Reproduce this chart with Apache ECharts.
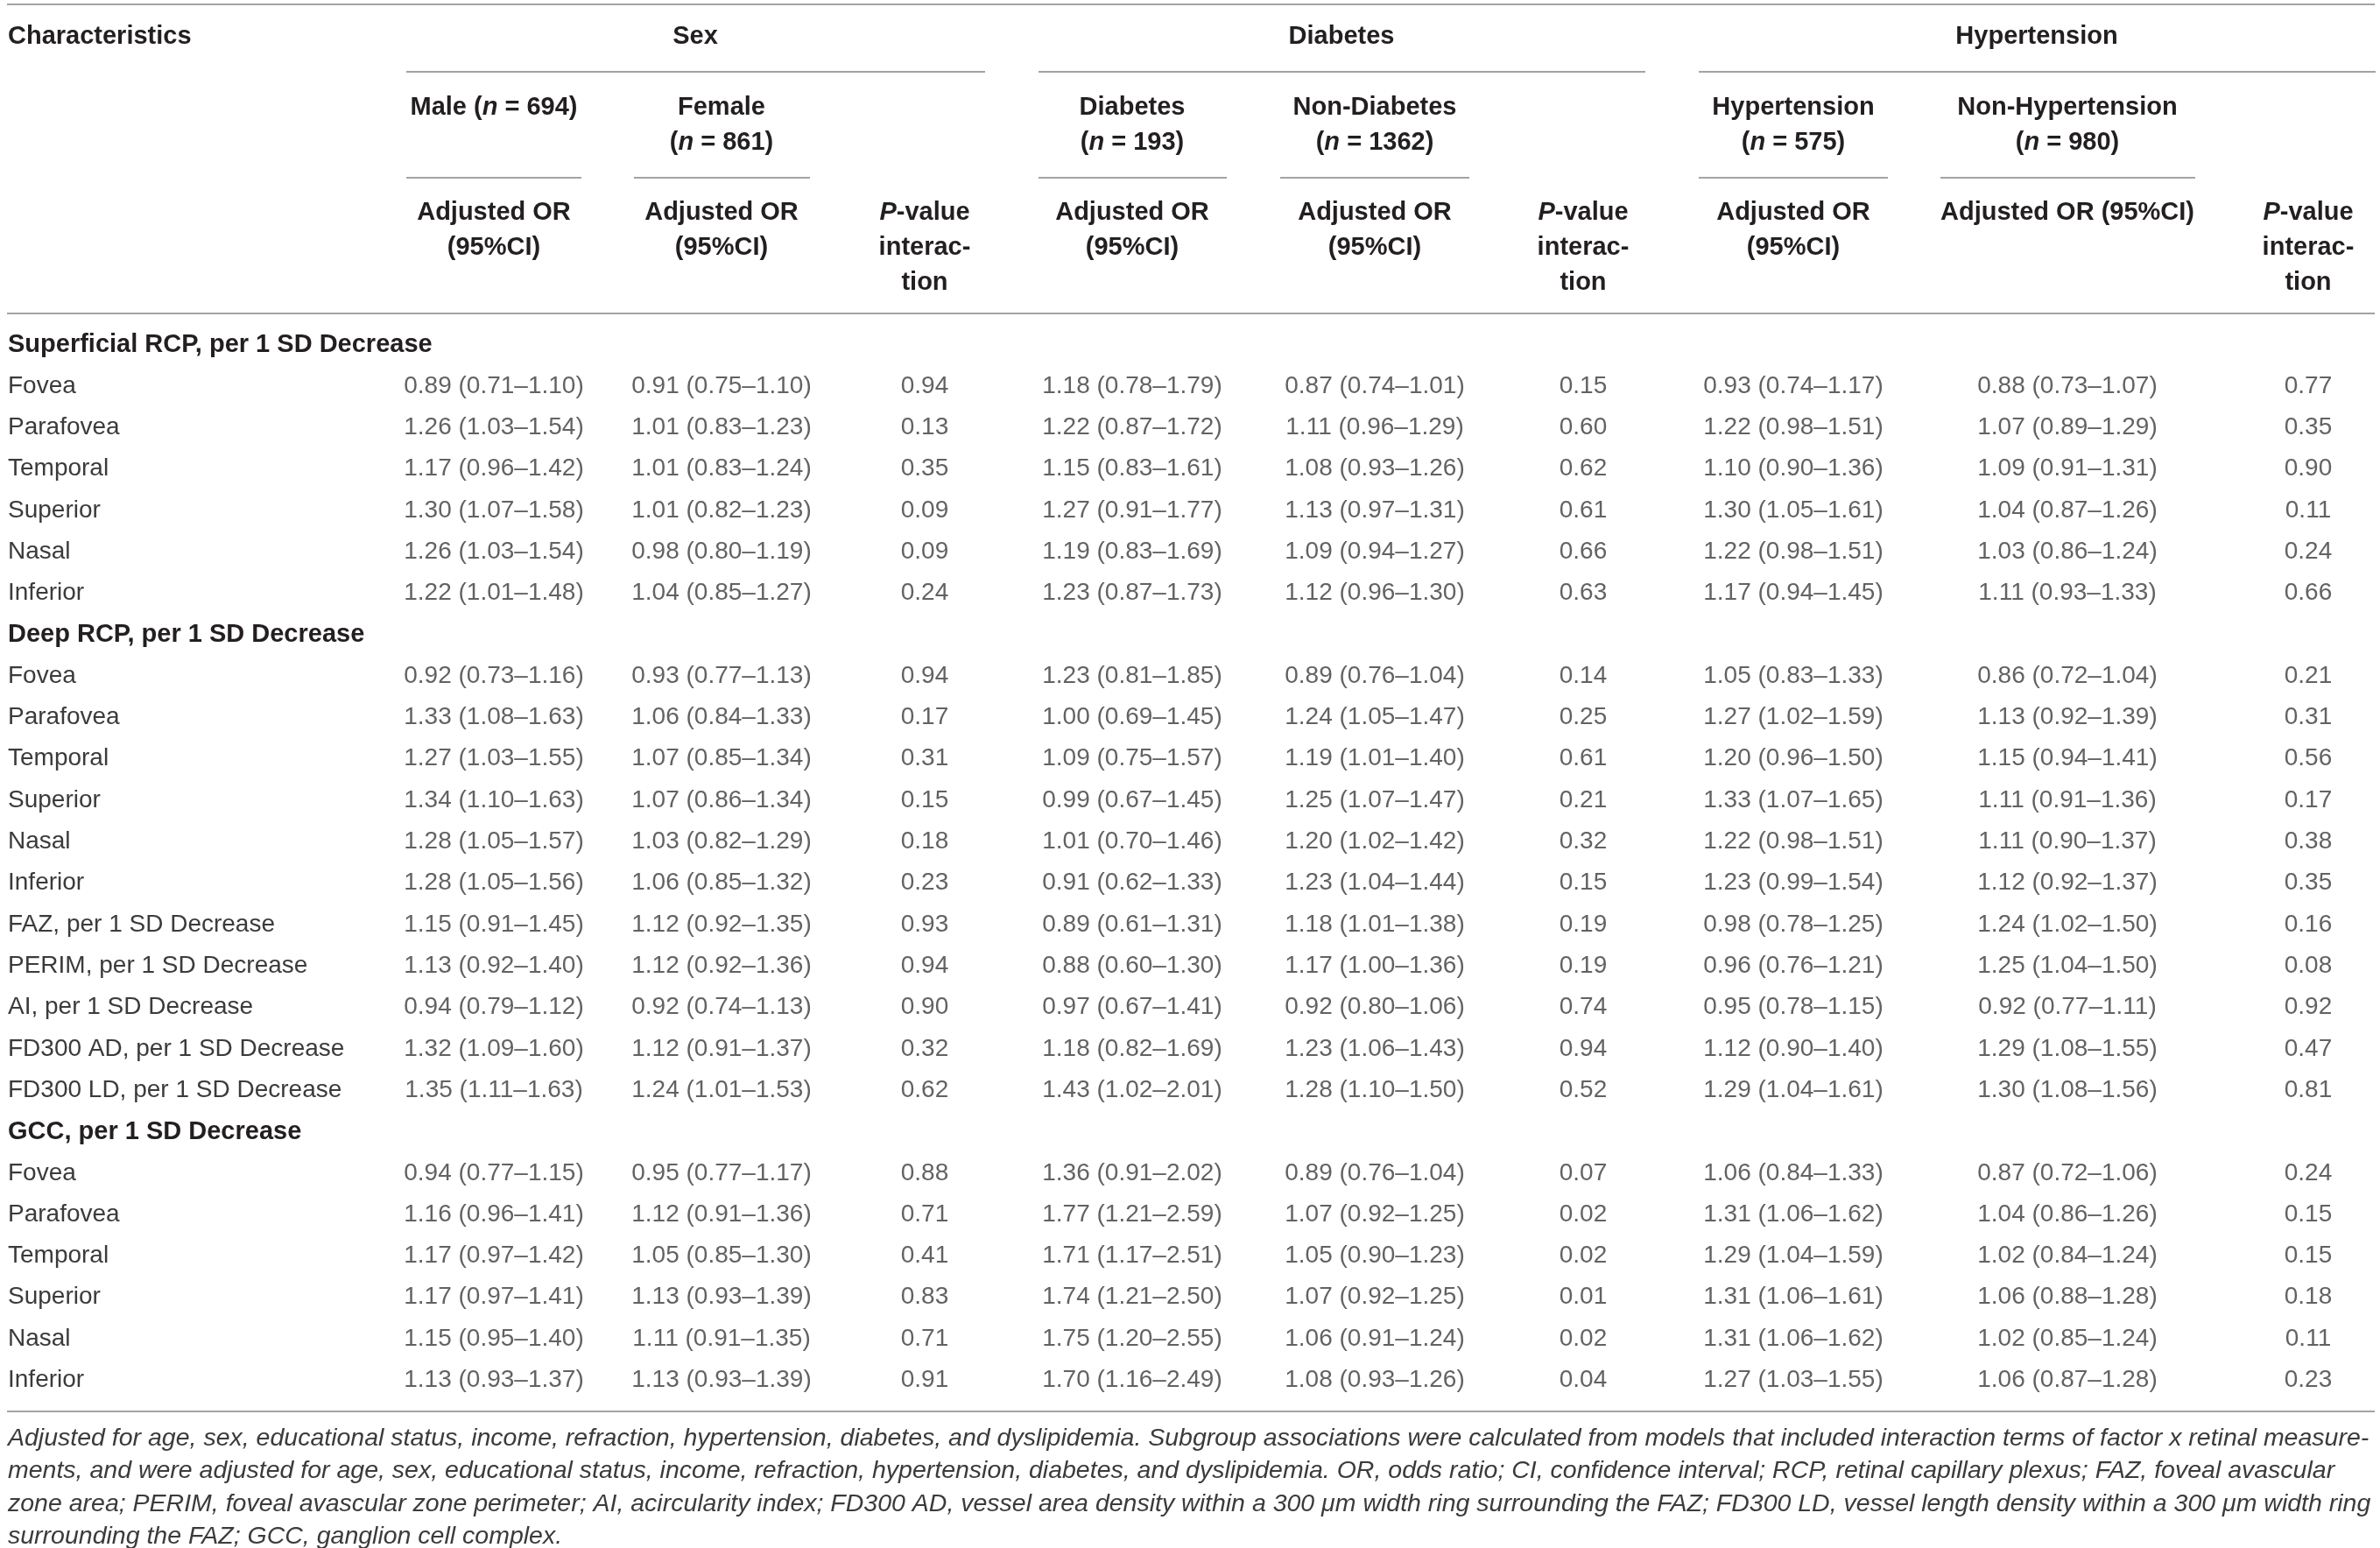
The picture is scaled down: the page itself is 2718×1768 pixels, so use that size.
<!DOCTYPE html>
<html>
<head>
<meta charset="utf-8">
<script src="https://cdn.jsdelivr.net/npm/echarts@6/dist/echarts.min.js"></script>
<style>
  html, body { margin: 0; padding: 0; background: #fff; }
  #main { width: 2718px; height: 1768px; }
</style>
</head>
<body>
<div id="main"></div>
<script>
// row labels, bold section rows are listed in sectionRows
var rowNames = [
    'Superficial RCP, per 1 SD Decrease',
    'Fovea', 'Parafovea', 'Temporal', 'Superior', 'Nasal', 'Inferior',
    'Deep RCP, per 1 SD Decrease',
    'Fovea', 'Parafovea', 'Temporal', 'Superior', 'Nasal', 'Inferior',
    'FAZ, per 1 SD Decrease',
    'PERIM, per 1 SD Decrease',
    'AI, per 1 SD Decrease',
    'FD300 AD, per 1 SD Decrease',
    'FD300 LD, per 1 SD Decrease',
    'GCC, per 1 SD Decrease',
    'Fovea', 'Parafovea', 'Temporal', 'Superior', 'Nasal', 'Inferior'
];
var sectionRows = [0, 7, 19];

var maleOR = [null,
    '0.89 (0.71–1.10)', '1.26 (1.03–1.54)', '1.17 (0.96–1.42)', '1.30 (1.07–1.58)', '1.26 (1.03–1.54)', '1.22 (1.01–1.48)',
    null,
    '0.92 (0.73–1.16)', '1.33 (1.08–1.63)', '1.27 (1.03–1.55)', '1.34 (1.10–1.63)', '1.28 (1.05–1.57)', '1.28 (1.05–1.56)',
    '1.15 (0.91–1.45)', '1.13 (0.92–1.40)', '0.94 (0.79–1.12)', '1.32 (1.09–1.60)', '1.35 (1.11–1.63)',
    null,
    '0.94 (0.77–1.15)', '1.16 (0.96–1.41)', '1.17 (0.97–1.42)', '1.17 (0.97–1.41)', '1.15 (0.95–1.40)', '1.13 (0.93–1.37)'];
var femaleOR = [null,
    '0.91 (0.75–1.10)', '1.01 (0.83–1.23)', '1.01 (0.83–1.24)', '1.01 (0.82–1.23)', '0.98 (0.80–1.19)', '1.04 (0.85–1.27)',
    null,
    '0.93 (0.77–1.13)', '1.06 (0.84–1.33)', '1.07 (0.85–1.34)', '1.07 (0.86–1.34)', '1.03 (0.82–1.29)', '1.06 (0.85–1.32)',
    '1.12 (0.92–1.35)', '1.12 (0.92–1.36)', '0.92 (0.74–1.13)', '1.12 (0.91–1.37)', '1.24 (1.01–1.53)',
    null,
    '0.95 (0.77–1.17)', '1.12 (0.91–1.36)', '1.05 (0.85–1.30)', '1.13 (0.93–1.39)', '1.11 (0.91–1.35)', '1.13 (0.93–1.39)'];
var sexP = [null,
    '0.94', '0.13', '0.35', '0.09', '0.09', '0.24',
    null,
    '0.94', '0.17', '0.31', '0.15', '0.18', '0.23',
    '0.93', '0.94', '0.90', '0.32', '0.62',
    null,
    '0.88', '0.71', '0.41', '0.83', '0.71', '0.91'];
var diabOR = [null,
    '1.18 (0.78–1.79)', '1.22 (0.87–1.72)', '1.15 (0.83–1.61)', '1.27 (0.91–1.77)', '1.19 (0.83–1.69)', '1.23 (0.87–1.73)',
    null,
    '1.23 (0.81–1.85)', '1.00 (0.69–1.45)', '1.09 (0.75–1.57)', '0.99 (0.67–1.45)', '1.01 (0.70–1.46)', '0.91 (0.62–1.33)',
    '0.89 (0.61–1.31)', '0.88 (0.60–1.30)', '0.97 (0.67–1.41)', '1.18 (0.82–1.69)', '1.43 (1.02–2.01)',
    null,
    '1.36 (0.91–2.02)', '1.77 (1.21–2.59)', '1.71 (1.17–2.51)', '1.74 (1.21–2.50)', '1.75 (1.20–2.55)', '1.70 (1.16–2.49)'];
var nonDiabOR = [null,
    '0.87 (0.74–1.01)', '1.11 (0.96–1.29)', '1.08 (0.93–1.26)', '1.13 (0.97–1.31)', '1.09 (0.94–1.27)', '1.12 (0.96–1.30)',
    null,
    '0.89 (0.76–1.04)', '1.24 (1.05–1.47)', '1.19 (1.01–1.40)', '1.25 (1.07–1.47)', '1.20 (1.02–1.42)', '1.23 (1.04–1.44)',
    '1.18 (1.01–1.38)', '1.17 (1.00–1.36)', '0.92 (0.80–1.06)', '1.23 (1.06–1.43)', '1.28 (1.10–1.50)',
    null,
    '0.89 (0.76–1.04)', '1.07 (0.92–1.25)', '1.05 (0.90–1.23)', '1.07 (0.92–1.25)', '1.06 (0.91–1.24)', '1.08 (0.93–1.26)'];
var diabP = [null,
    '0.15', '0.60', '0.62', '0.61', '0.66', '0.63',
    null,
    '0.14', '0.25', '0.61', '0.21', '0.32', '0.15',
    '0.19', '0.19', '0.74', '0.94', '0.52',
    null,
    '0.07', '0.02', '0.02', '0.01', '0.02', '0.04'];
var hypOR = [null,
    '0.93 (0.74–1.17)', '1.22 (0.98–1.51)', '1.10 (0.90–1.36)', '1.30 (1.05–1.61)', '1.22 (0.98–1.51)', '1.17 (0.94–1.45)',
    null,
    '1.05 (0.83–1.33)', '1.27 (1.02–1.59)', '1.20 (0.96–1.50)', '1.33 (1.07–1.65)', '1.22 (0.98–1.51)', '1.23 (0.99–1.54)',
    '0.98 (0.78–1.25)', '0.96 (0.76–1.21)', '0.95 (0.78–1.15)', '1.12 (0.90–1.40)', '1.29 (1.04–1.61)',
    null,
    '1.06 (0.84–1.33)', '1.31 (1.06–1.62)', '1.29 (1.04–1.59)', '1.31 (1.06–1.61)', '1.31 (1.06–1.62)', '1.27 (1.03–1.55)'];
var nonHypOR = [null,
    '0.88 (0.73–1.07)', '1.07 (0.89–1.29)', '1.09 (0.91–1.31)', '1.04 (0.87–1.26)', '1.03 (0.86–1.24)', '1.11 (0.93–1.33)',
    null,
    '0.86 (0.72–1.04)', '1.13 (0.92–1.39)', '1.15 (0.94–1.41)', '1.11 (0.91–1.36)', '1.11 (0.90–1.37)', '1.12 (0.92–1.37)',
    '1.24 (1.02–1.50)', '1.25 (1.04–1.50)', '0.92 (0.77–1.11)', '1.29 (1.08–1.55)', '1.30 (1.08–1.56)',
    null,
    '0.87 (0.72–1.06)', '1.04 (0.86–1.26)', '1.02 (0.84–1.24)', '1.06 (0.88–1.28)', '1.02 (0.85–1.24)', '1.06 (0.87–1.28)'];
var hypP = [null,
    '0.77', '0.35', '0.90', '0.11', '0.24', '0.66',
    null,
    '0.21', '0.31', '0.56', '0.17', '0.38', '0.35',
    '0.16', '0.08', '0.92', '0.47', '0.81',
    null,
    '0.24', '0.15', '0.15', '0.18', '0.11', '0.23'];

var footnote = [
    'Adjusted for age, sex, educational status, income, refraction, hypertension, diabetes, and dyslipidemia. Subgroup associations were calculated from models that included interaction terms of factor x retinal measure-',
    'ments, and were adjusted for age, sex, educational status, income, refraction, hypertension, diabetes, and dyslipidemia. OR, odds ratio; CI, confidence interval; RCP, retinal capillary plexus; FAZ, foveal avascular',
    'zone area; PERIM, foveal avascular zone perimeter; AI, acircularity index; FD300 AD, vessel area density within a 300 μm width ring surrounding the FAZ; FD300 LD, vessel length density within a 300 μm width ring',
    'surrounding the FAZ; GCC, ganglion cell complex.'
];

var FONT = '"Liberation Sans", Arial, Helvetica, sans-serif';
var INK = '#231f20';
var GREY = '#3b3b3b';
var RULE = '#a3a3a3';

// column centres (px)
var colX = [564, 824, 1056, 1293, 1570, 1808, 2048, 2361, 2636];
var columns = [maleOR, femaleOR, sexP, diabOR, nonDiabOR, diabP, hypOR, nonHypOR, hypP];

var myChart = echarts.init(document.getElementById('main'), null, {renderer: 'canvas'});

var rich = {
    h: {fontFamily: FONT, fontSize: 29, fontWeight: 'bold', color: INK},
    hi: {fontFamily: FONT, fontSize: 29, fontWeight: 'bold', fontStyle: 'italic', color: INK}
};

function head(x, y, text, align) {
    return {
        type: 'text', x: x, y: y, silent: true,
        style: {
            text: text, rich: rich, align: align || 'center', verticalAlign: 'middle',
            font: 'bold 29px ' + FONT, fill: INK
        }
    };
}

function rule(x1, x2, y) {
    return {
        type: 'line', silent: true,
        shape: {x1: x1, y1: y, x2: x2, y2: y},
        style: {stroke: RULE, lineWidth: 2}
    };
}

var graphics = [
    rule(8, 2712, 5),
    rule(464, 1125, 82), rule(1186, 1879, 82), rule(1940, 2713, 82),
    rule(464, 664, 203), rule(724, 925, 203),
    rule(1186, 1401, 203), rule(1462, 1678, 203),
    rule(1940, 2156, 203), rule(2216, 2507, 203),
    rule(8, 2712, 358),
    rule(8, 2712, 1612),

    head(9, 42, '{h|Characteristics}', 'left'),
    head(794, 42, '{h|Sex}'),
    head(1532, 42, '{h|Diabetes}'),
    head(2326, 42, '{h|Hypertension}'),

    head(564, 123, '{h|Male (}{hi|n}{h| = 694)}'),
    head(824, 123, '{h|Female}'), head(824, 163, '{h|(}{hi|n}{h| = 861)}'),
    head(1293, 123, '{h|Diabetes}'), head(1293, 163, '{h|(}{hi|n}{h| = 193)}'),
    head(1570, 123, '{h|Non-Diabetes}'), head(1570, 163, '{h|(}{hi|n}{h| = 1362)}'),
    head(2048, 123, '{h|Hypertension}'), head(2048, 163, '{h|(}{hi|n}{h| = 575)}'),
    head(2361, 123, '{h|Non-Hypertension}'), head(2361, 163, '{h|(}{hi|n}{h| = 980)}'),
    head(2361, 243, '{h|Adjusted OR (95%CI)}')
];

[564, 824, 1293, 1570, 2048].forEach(function (x) {
    graphics.push(head(x, 243, '{h|Adjusted OR}'));
    graphics.push(head(x, 283, '{h|(95%CI)}'));
});
[1056, 1808, 2636].forEach(function (x) {
    graphics.push(head(x, 243, '{hi|P}{h|-value}'));
    graphics.push(head(x, 283, '{h|interac-}'));
    graphics.push(head(x, 323, '{h|tion}'));
});

for (var k = 0; k < footnote.length; k++) {
    graphics.push({
        type: 'text', x: 9, y: 1643 + k * 37.5, silent: true,
        style: {
            text: footnote[k], align: 'left', verticalAlign: 'middle',
            font: 'italic 28.5px ' + FONT, fill: GREY
        }
    });
}

var series = [];
for (var c = 0; c < columns.length; c++) {
    var items = [];
    for (var r = 0; r < columns[c].length; r++) {
        if (columns[c][r] !== null) {
            items.push([colX[c], r, columns[c][r]]);
        }
    }
    series.push({
        type: 'scatter',
        data: items,
        symbolSize: 1,
        silent: true,
        itemStyle: {color: 'rgba(0,0,0,0)'},
        label: {
            show: true,
            position: 'inside',
            formatter: function (p) { return p.data[2]; },
            fontFamily: FONT,
            fontSize: 28,
            color: GREY
        }
    });
}

var option = {
    animation: false,
    backgroundColor: '#fff',
    grid: {left: 0, right: 0, top: 370, bottom: 168},
    xAxis: {
        type: 'value', min: 0, max: 2718, show: false
    },
    yAxis: {
        type: 'category',
        data: rowNames,
        inverse: true,
        axisLine: {show: false},
        axisTick: {show: false},
        splitLine: {show: false},
        axisLabel: {
            inside: true,
            margin: 9,
            interval: 0,
            formatter: function (v, i) {
                return sectionRows.indexOf(i) >= 0 ? '{s|' + v + '}' : '{r|' + v + '}';
            },
            rich: {
                s: {fontFamily: FONT, fontSize: 29, fontWeight: 'bold', color: INK},
                r: {fontFamily: FONT, fontSize: 28, color: GREY}
            }
        }
    },
    graphic: graphics,
    series: series
};

myChart.setOption(option);
</script>
</body>
</html>
